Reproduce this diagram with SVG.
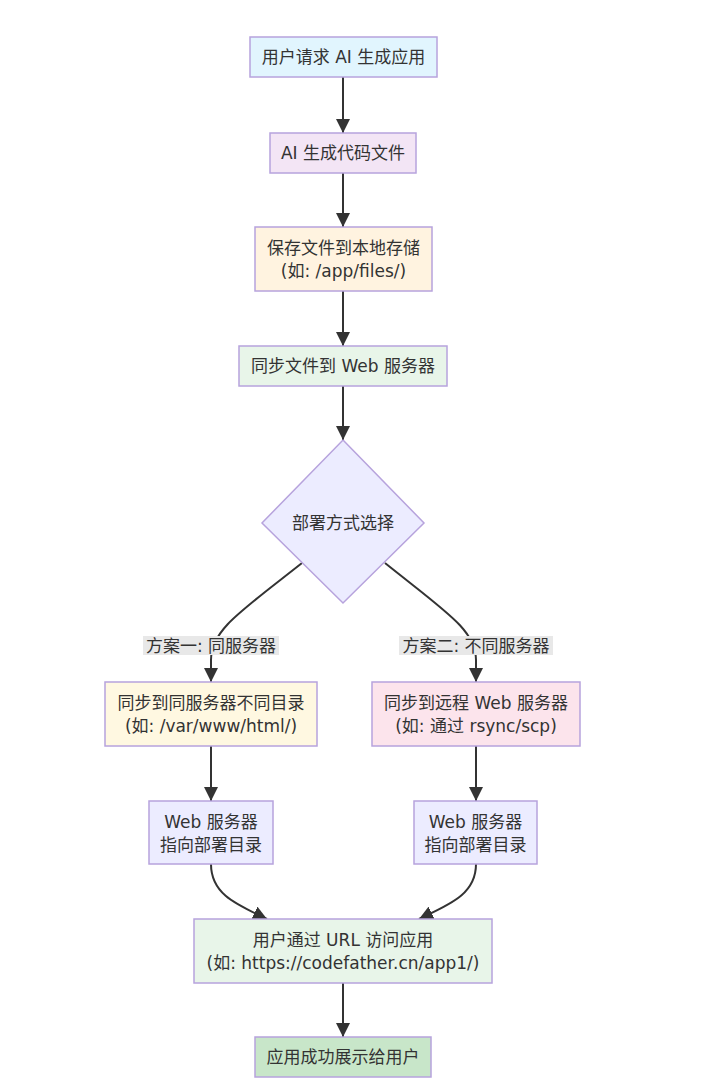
<svg xmlns="http://www.w3.org/2000/svg" width="716" height="1087" viewBox="0 0 716 1087">
<style>
.n{stroke:#b7a3dd;stroke-width:1.5}
.t{font-family:"DejaVu Sans","Noto Sans CJK SC",sans-serif;font-size:17px;fill:#333;text-anchor:middle;dominant-baseline:central}
.e{fill:none;stroke:#333;stroke-width:2}
.lb{fill:#e8e8e8}
</style>
<defs>
<marker id="ah" markerUnits="userSpaceOnUse" markerWidth="14" markerHeight="14" viewBox="0 0 10 10" refX="10" refY="5" orient="auto">
<path d="M0,0 L10,5 L0,10 z" fill="#333"/>
</marker>
</defs>
<rect width="716" height="1087" fill="#fff"/>
<g id="connectors">
<path class="e" d="M343,77 L343,133" marker-end="url(#ah)"/>
<path class="e" d="M343,173 L343,227" marker-end="url(#ah)"/>
<path class="e" d="M343,291 L343,346" marker-end="url(#ah)"/>
<path class="e" d="M343,386 L343,440" marker-end="url(#ah)"/>
<path class="e" d="M302,563 C240,612 211,630 211,660 L211,682" marker-end="url(#ah)"/>
<path class="e" d="M385,563 C446,612 476,630 476,660 L476,682" marker-end="url(#ah)"/>
<path class="e" d="M211,746 L211,801" marker-end="url(#ah)"/>
<path class="e" d="M476,746 L476,801" marker-end="url(#ah)"/>
<path class="e" d="M211,864 C211,895 238,905 267,919" marker-end="url(#ah)"/>
<path class="e" d="M476,864 C476,895 448,905 419,919" marker-end="url(#ah)"/>
<path class="e" d="M343,983 L343,1037" marker-end="url(#ah)"/>
<rect class="lb" x="143" y="636" width="136" height="19"/>
<text class="t" x="211" y="645.5">方案一: 同服务器</text>
<rect class="lb" x="399" y="636" width="154" height="19"/>
<text class="t" x="476" y="645.5">方案二: 不同服务器</text>
</g>
<g id="n1"><rect class="n" x="250" y="37" width="187" height="40" fill="#e1f5fe"/><text class="t" x="343.5" y="57">用户请求 AI 生成应用</text></g>
<g id="n2"><rect class="n" x="270" y="133" width="146" height="40" fill="#f3e5f5"/><text class="t" x="343" y="153">AI 生成代码文件</text></g>
<g id="n3"><rect class="n" x="255" y="227" width="177" height="64" fill="#fff3e0"/><text class="t" x="343.5" y="248">保存文件到本地存储</text><text class="t" x="343.5" y="271">(如: /app/files/)</text></g>
<g id="n4"><rect class="n" x="239" y="346" width="208" height="40" fill="#e8f5e9"/><text class="t" x="343" y="366">同步文件到 Web 服务器</text></g>
<g id="n5"><path class="n" d="M343,440 L424,523 L343,603 L262,523 Z" fill="#ececff"/><text class="t" x="343" y="523">部署方式选择</text></g>
<g id="n6"><rect class="n" x="105" y="682" width="212" height="64" fill="#fff8e1"/><text class="t" x="211" y="703">同步到同服务器不同目录</text><text class="t" x="211" y="726">(如: /var/www/html/)</text></g>
<g id="n7"><rect class="n" x="372" y="682" width="208" height="64" fill="#fce4ec"/><text class="t" x="476" y="703">同步到远程 Web 服务器</text><text class="t" x="476" y="726">(如: 通过 rsync/scp)</text></g>
<g id="n8"><rect class="n" x="149" y="801" width="124" height="63" fill="#ececff"/><text class="t" x="211" y="822">Web 服务器</text><text class="t" x="211" y="845">指向部署目录</text></g>
<g id="n9"><rect class="n" x="414" y="801" width="123" height="63" fill="#ececff"/><text class="t" x="475.5" y="822">Web 服务器</text><text class="t" x="475.5" y="845">指向部署目录</text></g>
<g id="n10"><rect class="n" x="194" y="919" width="298" height="64" fill="#e8f5e9"/><text class="t" x="343" y="940">用户通过 URL 访问应用</text><text class="t" x="343" y="963">(如: https://codefather.cn/app1/)</text></g>
<g id="n11"><rect class="n" x="255" y="1037" width="176" height="40" fill="#c8e6c9"/><text class="t" x="343" y="1057">应用成功展示给用户</text></g>
</svg>
